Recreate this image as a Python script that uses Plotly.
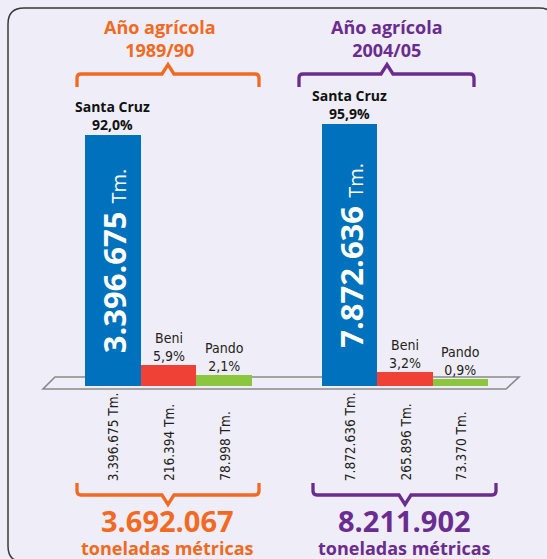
import plotly.graph_objects as go

# ---------------- data ----------------
regions = ["Santa Cruz", "Beni", "Pando"]
tm_1989 = [3396675, 216394, 78998]
tm_2004 = [7872636, 265896, 73370]
year_labels = ["1989/90", "2004/05"]
title_text = "Año agrícola"
unit_text = "toneladas métricas"

# ---------------- style ----------------
W, H = 547, 559
BG = "#EFEDF7"
bar_colors = ["#0071BC", "#EF4136", "#8CC63F"]
accents = ["#F26A21", "#6A2C90"]
BOLD = "Open Sans, Noto Sans, sans-serif"
NARROW = "Liberation Sans Narrow, Arial Narrow, DejaVu Sans Condensed, sans-serif"
TXT = "#231F20"


def px(x):
    return x / W


def py(y):
    return 1 - y / H


def path(*segs):
    out = []
    for s in segs:
        cmd, pts = s[0], s[1:]
        coords = []
        for i in range(0, len(pts), 2):
            coords.append(f"{px(pts[i]):.5f},{py(pts[i+1]):.5f}")
        out.append(cmd + " " + " ".join(coords))
    return " ".join(out)


def fmt_int(n):
    return f"{n:,}".replace(",", ".")


def fmt_pct(v, t):
    return f"{100 * v / t:.1f}".replace(".", ",") + "%"


# subplot layout (domains) and axis ranges
groups = [
    dict(vals=tm_1989, x="x", y="y", xdom=[px(85), px(252)], yrange=[-69000, 3880000]),
    dict(vals=tm_2004, x="x2", y="y2", xdom=[px(322), px(488)], yrange=[-153000, 8610000]),
]
ydom = [py(386), py(100)]

fig = go.Figure()
annotations = []
shapes = []

for gi, g in enumerate(groups):
    vals = g["vals"]
    total = sum(vals)
    base = g["yrange"][0]
    fig.add_trace(go.Bar(
        x=regions, y=[v - base for v in vals], base=[base] * 3,
        marker=dict(color=bar_colors, line=dict(width=0)),
        xaxis=g["x"], yaxis=g["y"], showlegend=False, hoverinfo="skip",
    ))
    xr, yr = g["x"], g["y"]
    # labels above bars
    for i, (r, v) in enumerate(zip(regions, vals)):
        if i == 0:
            txt = f"<b>{r}</b><br><b>{fmt_pct(v, total)}</b>"
            fnt = dict(family=BOLD, size=14, color="#111111")
        else:
            txt = f"{r}<br>{fmt_pct(v, total)}"
            fnt = dict(family=NARROW, size=14, color=TXT)
        annotations.append(dict(
            x=r, y=v, xref=xr, yref=yr, text=txt, showarrow=False,
            xanchor="center", yanchor="bottom", font=fnt, yshift=-1,
        ))
        # rotated value below platform
        annotations.append(dict(
            x=r, xref=xr, y=py(483), yref="paper",
            text=f"{fmt_int(v)} Tm.", textangle=-90, showarrow=False,
            xanchor="center", yanchor="bottom",
            font=dict(family=NARROW, size=13.5, color=TXT),
        ))
    # big rotated value inside main bar
    annotations.append(dict(
        x=regions[0], y=(vals[0] + base) / 2, xref=xr, yref=yr,
        text=f"<b>{fmt_int(vals[0])}</b> <span style='font-size:20px'>Tm.</span>",
        textangle=-90, showarrow=False, xanchor="center", yanchor="middle",
        font=dict(family=BOLD, size=31, color="white"), xshift=1,
    ))

# titles and totals
title_cx = [160, 387]
total_cx = [167, 404]
for gi, g in enumerate(groups):
    col = accents[gi]
    annotations.append(dict(
        x=px(title_cx[gi]), y=py(38.5), xref="paper", yref="paper",
        text=f"<b>{title_text}<br>{year_labels[gi]}</b>", showarrow=False,
        xanchor="center", yanchor="middle", font=dict(family=BOLD, size=18, color=col),
    ))
    annotations.append(dict(
        x=px(total_cx[gi]), y=py(520.5), xref="paper", yref="paper",
        text=f"<b>{fmt_int(sum(g['vals']))}</b>", showarrow=False,
        xanchor="center", yanchor="middle", font=dict(family=BOLD, size=29, color=col),
    ))
    annotations.append(dict(
        x=px(total_cx[gi]), y=py(548), xref="paper", yref="paper",
        text=f"<b>{unit_text}</b>", showarrow=False,
        xanchor="center", yanchor="middle", font=dict(family=BOLD, size=18, color=col),
    ))

# brackets
top_br = [(77, 259, 168), (299, 474, 387)]
bot_br = [(77, 259, 168), (313, 496, 405)]
for gi in range(2):
    col = accents[gi]
    a, b, c = top_br[gi]
    shapes.append(dict(
        type="path", xref="paper", yref="paper",
        path=path(("M", a, 87), ("L", a, 78), ("Q", a, 74, a + 4, 74), ("L", c - 6, 74),
                  ("L", c, 64.5), ("L", c + 6, 74), ("L", b - 4, 74), ("Q", b, 74, b, 78),
                  ("L", b, 87)),
        line=dict(color=col, width=3.3),
    ))
    a, b, c = bot_br[gi]
    shapes.append(dict(
        type="path", xref="paper", yref="paper",
        path=path(("M", a, 483), ("L", a, 491), ("Q", a, 495, a + 4, 495), ("L", c - 6, 495),
                  ("L", c, 504.5), ("L", c + 6, 495), ("L", b - 4, 495), ("Q", b, 495, b, 491),
                  ("L", b, 483)),
        line=dict(color=col, width=3.3),
    ))

# platform
shapes.append(dict(
    type="path", xref="paper", yref="paper", layer="below",
    path=path(("M", 55, 377), ("L", 519, 377), ("L", 506, 389), ("L", 43, 389), ("Z",)),
    line=dict(color="#8A8A8A", width=1.6), fillcolor="rgba(255,255,255,0)",
))

# outer rounded border
x0, y0, x1, y1, r = 8, 8, 555, 562, 16
shapes.append(dict(
    type="path", xref="paper", yref="paper", layer="below",
    path=path(("M", x0 + r, y0), ("L", x1 - r, y0), ("Q", x1, y0, x1, y0 + r),
              ("L", x1, y1 - r), ("Q", x1, y1, x1 - r, y1), ("L", x0 + r, y1),
              ("Q", x0, y1, x0, y1 - r), ("L", x0, y0 + r), ("Q", x0, y0, x0 + r, y0), ("Z",)),
    line=dict(color="#3A3A3A", width=1.5),
))

hidden = dict(showgrid=False, zeroline=False, showticklabels=False, ticks="", showline=False)
fig.update_layout(
    width=W, height=H, margin=dict(l=0, r=0, t=0, b=0),
    paper_bgcolor=BG, plot_bgcolor="rgba(0,0,0,0)",
    bargap=0, showlegend=False,
    xaxis=dict(domain=groups[0]["xdom"], anchor="y", type="category",
               range=[-0.5, 2.5], **hidden),
    yaxis=dict(domain=ydom, anchor="x", range=groups[0]["yrange"], **hidden),
    xaxis2=dict(domain=groups[1]["xdom"], anchor="y2", type="category",
                range=[-0.5, 2.5], **hidden),
    yaxis2=dict(domain=ydom, anchor="x2", range=groups[1]["yrange"], **hidden),
    annotations=annotations, shapes=shapes,
)

fig.write_html(
    "out.html",
    post_script="document.body.style.margin='0';document.body.style.overflow='hidden';",
    config={"displayModeBar": False},
)
